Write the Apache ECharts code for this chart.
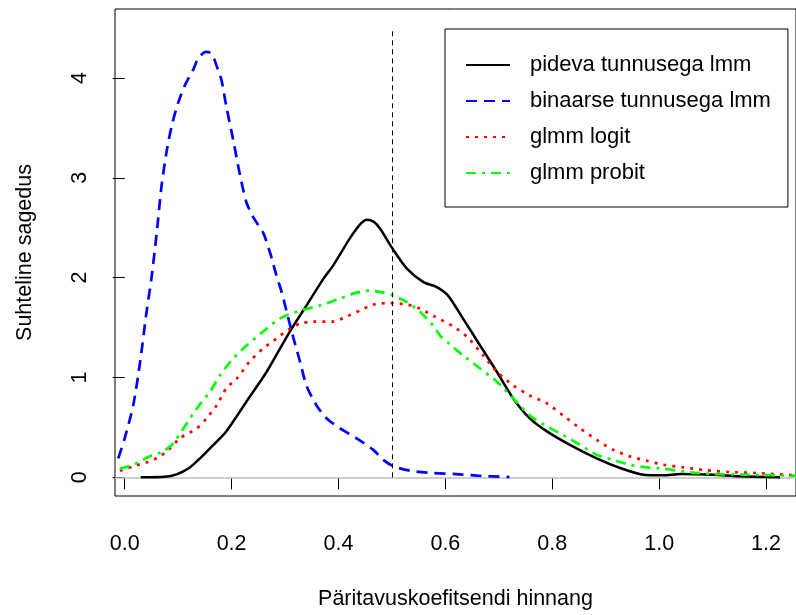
<!DOCTYPE html>
<html>
<head>
<meta charset="utf-8">
<script src="https://cdn.jsdelivr.net/npm/echarts@6/dist/echarts.min.js"></script>
<style>html,body{margin:0;padding:0;background:#fff}#c{width:796px;height:615px}</style>
</head>
<body>
<div id="c"></div>
<script>
var seriesNames = ['pideva tunnusega lmm', 'binaarse tunnusega lmm', 'glmm logit', 'glmm probit'];
var xTicks = [0, 0.2, 0.4, 0.6, 0.8, 1.0, 1.2];
var yTicks = [0, 1, 2, 3, 4];
var refX = 0.5, refYTop = 4.5;

var pideva = [[0.03,0],[0.075,0.005],[0.097,0.03],[0.12,0.09],[0.141,0.19],[0.165,0.32],[0.19,0.46],[0.228,0.76],[0.266,1.06],[0.309,1.46],[0.34,1.72],[0.372,1.99],[0.39,2.12],[0.421,2.39],[0.44,2.53],[0.453,2.58],[0.466,2.56],[0.478,2.49],[0.5,2.30],[0.528,2.09],[0.559,1.955],[0.584,1.905],[0.605,1.82],[0.633,1.59],[0.665,1.32],[0.696,1.06],[0.727,0.79],[0.758,0.59],[0.79,0.46],[0.833,0.325],[0.883,0.19],[0.927,0.093],[0.97,0.026],[1.008,0.02],[1.04,0.033],[1.10,0.026],[1.15,0.01],[1.226,0.0]];
var binaarse = [[-0.012,0.19],[0.0,0.39],[0.016,0.72],[0.029,1.16],[0.041,1.66],[0.05,1.99],[0.06,2.45],[0.069,2.92],[0.079,3.28],[0.088,3.52],[0.10,3.75],[0.113,3.93],[0.128,4.08],[0.136,4.18],[0.145,4.24],[0.152,4.26],[0.16,4.25],[0.166,4.21],[0.172,4.12],[0.181,3.98],[0.19,3.72],[0.203,3.38],[0.216,3.02],[0.228,2.75],[0.241,2.60],[0.259,2.45],[0.272,2.25],[0.284,2.02],[0.294,1.85],[0.303,1.66],[0.316,1.39],[0.328,1.16],[0.34,0.92],[0.359,0.72],[0.378,0.59],[0.403,0.49],[0.434,0.39],[0.465,0.275],[0.484,0.175],[0.503,0.11],[0.534,0.066],[0.577,0.043],[0.62,0.033],[0.66,0.016],[0.72,0.003]];
var logit = [[-0.009,0.066],[0.016,0.11],[0.054,0.175],[0.079,0.26],[0.103,0.39],[0.135,0.49],[0.153,0.59],[0.172,0.72],[0.19,0.89],[0.21,0.99],[0.234,1.16],[0.259,1.29],[0.284,1.39],[0.309,1.49],[0.328,1.54],[0.353,1.56],[0.39,1.56],[0.415,1.61],[0.44,1.67],[0.465,1.73],[0.496,1.745],[0.528,1.73],[0.552,1.69],[0.58,1.61],[0.615,1.51],[0.64,1.41],[0.671,1.22],[0.696,1.06],[0.727,0.92],[0.758,0.82],[0.79,0.74],[0.82,0.62],[0.852,0.49],[0.883,0.375],[0.914,0.275],[0.945,0.21],[0.977,0.166],[1.008,0.126],[1.045,0.10],[1.089,0.07],[1.132,0.053],[1.182,0.043],[1.256,0.02]];
var probit = [[-0.009,0.086],[0.016,0.126],[0.047,0.21],[0.072,0.26],[0.091,0.34],[0.11,0.49],[0.135,0.69],[0.16,0.86],[0.178,1.02],[0.203,1.19],[0.228,1.32],[0.259,1.46],[0.29,1.59],[0.328,1.67],[0.365,1.72],[0.403,1.79],[0.434,1.85],[0.459,1.87],[0.484,1.85],[0.503,1.82],[0.528,1.755],[0.552,1.66],[0.577,1.52],[0.59,1.42],[0.609,1.33],[0.633,1.22],[0.665,1.09],[0.696,0.96],[0.727,0.79],[0.758,0.62],[0.79,0.51],[0.82,0.425],[0.852,0.325],[0.883,0.225],[0.914,0.175],[0.945,0.126],[0.977,0.10],[1.008,0.086],[1.058,0.05],[1.10,0.033],[1.164,0.026],[1.256,0.016]];

var FONT = 'Liberation Sans, Arial, Helvetica, sans-serif';
var chart = echarts.init(document.getElementById('c'), null, {renderer: 'canvas'});
var smoothVal = 0.25;
chart.setOption({
  animation: false,
  backgroundColor: '#fff',
  textStyle: {fontFamily: FONT},
  grid: {left: 115, top: 9, width: 681, height: 489, show: true, borderColor: '#000', borderWidth: 1, backgroundColor: 'transparent', containLabel: false},
  legend: {
    orient: 'vertical', left: 445, top: 29,
    data: seriesNames,
    itemWidth: 44, itemHeight: 14, itemGap: 14,
    padding: [25, 17, 23, 20],
    borderColor: '#000', borderWidth: 1, backgroundColor: '#fff',
    itemStyle: {opacity: 0},
    textStyle: {fontSize: 22, fontFamily: FONT, color: '#000', lineHeight: 22, padding: [0, 0, 0, 15]},
    selectedMode: false
  },
  xAxis: {
    type: 'value', min: -0.0181, max: 1.256,
    splitLine: {show: false},
    axisLine: {show: false},
    axisTick: {show: true, length: 12, inside: false, customValues: xTicks, lineStyle: {color: '#000', width: 1}},
    axisLabel: {show: true, customValues: xTicks, margin: 37, fontSize: 21.5, fontFamily: FONT, color: '#000', formatter: function (v) { return v.toFixed(1); }},
    name: 'Päritavuskoefitsendi hinnang', nameLocation: 'middle', nameGap: 92,
    nameTextStyle: {fontSize: 21.5, fontFamily: FONT, color: '#000'}
  },
  yAxis: {
    type: 'value', min: -0.187, max: 4.69,
    splitLine: {show: false},
    axisLine: {show: false},
    axisTick: {show: true, length: 12, inside: false, customValues: yTicks, lineStyle: {color: '#000', width: 1}},
    axisLabel: {show: true, customValues: yTicks, rotate: 90, margin: 24, fontSize: 21.5, fontFamily: FONT, color: '#000', formatter: function (v) { return String(Math.round(v)); }},
    name: 'Suhteline sagedus', nameLocation: 'middle', nameRotate: 90, nameGap: 79,
    nameTextStyle: {fontSize: 21.5, fontFamily: FONT, color: '#000'}
  },
  series: [
    {name: seriesNames[0], type: 'line', data: pideva, showSymbol: false, symbol: 'none', smooth: smoothVal, z: 3,
     lineStyle: {color: '#000', width: 2.5, type: 'solid'}, itemStyle: {color: '#000'},
     markLine: {silent: true, symbol: 'none', label: {show: false}, z: 1,
       lineStyle: {color: '#bebebe', width: 1.5, type: 'solid'},
       data: [{yAxis: 0}]}},
    {name: seriesNames[1], type: 'line', data: binaarse, showSymbol: false, symbol: 'none', smooth: smoothVal, z: 4,
     lineStyle: {color: '#0000ff', width: 2.7, type: [11, 7]}, itemStyle: {color: '#0000ff'}},
    {name: seriesNames[2], type: 'line', data: logit, showSymbol: false, symbol: 'none', smooth: smoothVal, z: 4,
     lineStyle: {color: '#ff0000', width: 2.7, type: [3, 6]}, itemStyle: {color: '#ff0000'}},
    {name: seriesNames[3], type: 'line', data: probit, showSymbol: false, symbol: 'none', smooth: smoothVal, z: 4,
     lineStyle: {color: '#00ff00', width: 2.7, type: [10, 6, 3, 6]}, itemStyle: {color: '#00ff00'},
     markLine: {silent: true, symbol: 'none', label: {show: false},
       lineStyle: {color: '#000', width: 1, type: [5, 4]},
       data: [[{coord: [refX, 0]}, {coord: [refX, refYTop]}]]}}
  ]
});
</script>
</body>
</html>
